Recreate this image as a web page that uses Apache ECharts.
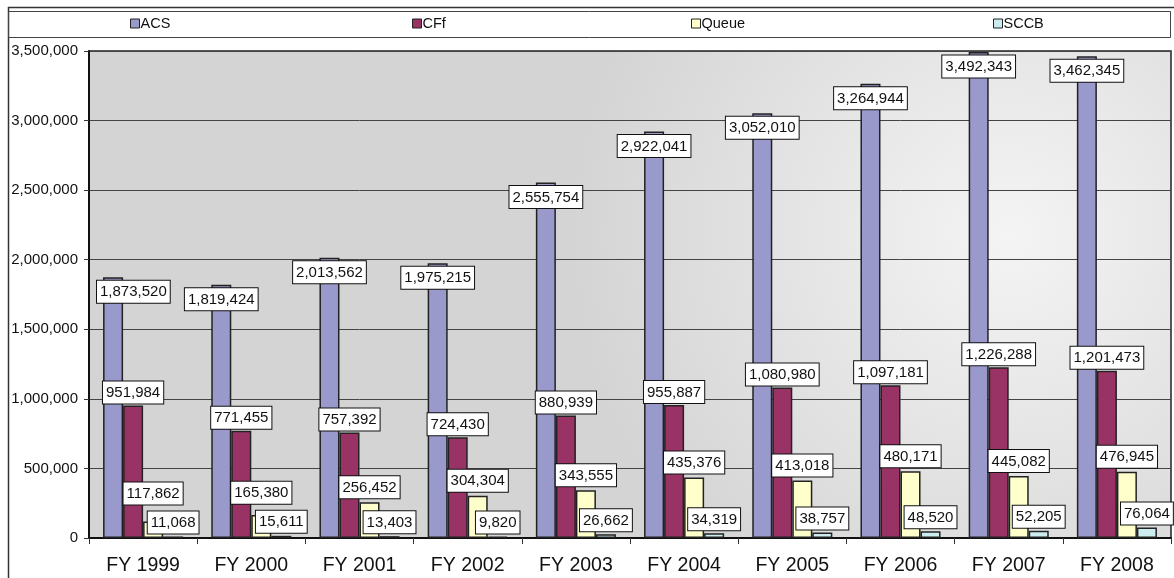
<!DOCTYPE html>
<html>
<head>
<meta charset="utf-8">
<script src="https://cdn.jsdelivr.net/npm/echarts@6/dist/echarts.min.js"></script>
<style>
html,body{margin:0;padding:0;background:#fff;}
#chart{width:1174px;height:578px;}
</style>
</head>
<body>
<div id="chart"></div>
<script>
const categories = ['FY 1999','FY 2000','FY 2001','FY 2002','FY 2003','FY 2004','FY 2005','FY 2006','FY 2007','FY 2008'];
const acs   = [1873520,1819424,2013562,1975215,2555754,2922041,3052010,3264944,3492343,3462345];
const cff   = [951984,771455,757392,724430,880939,955887,1080980,1097181,1226288,1201473];
const queue = [117862,165380,256452,304304,343555,435376,413018,480171,445082,476945];
const sccb  = [11068,15611,13403,9820,26662,34319,38757,48520,52205,76064];
const seriesNames = ['ACS','CFf','Queue','SCCB'];
const yTicks = {min:0, max:3500000, interval:500000};

const colors = ['#9999CC','#993366','#FFFFCC','#CCECF0'];
const fmt = v => Number(v).toLocaleString('en-US');
const FONT = 'Liberation Sans, Arial, sans-serif';
const GRID = {left:89, right:3, top:51, bottom:40};

const labelBase = {
  show:true, color:'#111', fontFamily:FONT, fontSize:15,
  backgroundColor:'#fff', borderColor:'#111', borderWidth:1,
  padding:[4,3,3,3],
  formatter: p => fmt(p.value)
};

let chart;

// keep labels inside the plot area horizontally
function keepInside(p){
  const minX = GRID.left + 7;
  if (p.labelRect.x < minX) return {dx: minX - p.labelRect.x};
  return {};
}
// Queue labels step above SCCB labels when they would collide
function queueLayout(p){
  const ySccbTop = chart.convertToPixel({yAxisIndex:0}, sccb[p.dataIndex]);
  const sccbLabelTop = ySccbTop - 3 - p.labelRect.height;
  const maxBottom = sccbLabelTop - 4;
  const bottom = p.labelRect.y + p.labelRect.height;
  if (bottom > maxBottom) return {dy: maxBottom - bottom};
  return {};
}

function mkSeries(name, data, color, pos, dist, layout){
  const s = {
    name, type:'bar', data,
    barGap:'0%', barCategoryGap:'26%',
    itemStyle:{color, borderColor:'#222', borderWidth:1.5},
    label:Object.assign({}, labelBase, {position:pos, distance:dist}),
    emphasis:{disabled:true},
    z: 2
  };
  if (layout) s.labelLayout = layout;
  return s;
}

const legendX = [130, 412, 691, 993];
const legends = seriesNames.map((n,i)=>({
  data:[n], left:legendX[i], top:16, padding:0,
  itemWidth:9, itemHeight:9, itemGap:0,
  icon:'rect',
  textStyle:{fontFamily:FONT, fontSize:14.5, color:'#111', padding:[0,0,0,-4]},
  itemStyle:{borderColor:'#222', borderWidth:1},
  selectedMode:false
}));

chart = echarts.init(document.getElementById('chart'), null, {renderer:'canvas'});
chart.setOption({
  animation:false,
  color:colors,
  backgroundColor:'#fff',
  legend:legends,
  grid:{
    left:GRID.left, right:GRID.right, top:GRID.top, bottom:GRID.bottom,
    show:true, borderColor:'#222', borderWidth:1.5,
    backgroundColor:{
      type:'radial', x:0.85, y:0.38, r:0.9,
      colorStops:[{offset:0,color:'#F4F4F4'},{offset:1,color:'#D4D4D4'}]
    }
  },
  graphic:[
    {type:'rect', left:6, top:5, shape:{width:1250, height:700}, style:{fill:null, stroke:'#333', lineWidth:1.5}, z:-1, silent:true},
    {type:'rect', left:6, top:9, shape:{width:1162, height:26}, style:{fill:null, stroke:'#444', lineWidth:1}, z:-1, silent:true}
  ],
  xAxis:{
    type:'category', data:categories,
    axisLine:{lineStyle:{color:'#111', width:2}},
    axisTick:{show:true, length:6, lineStyle:{color:'#333'}},
    axisLabel:{fontFamily:FONT, fontSize:19.5, color:'#111', margin:18}
  },
  yAxis:{
    type:'value', min:yTicks.min, max:yTicks.max, interval:yTicks.interval,
    axisLine:{show:true, lineStyle:{color:'#111', width:2}},
    axisTick:{show:true, length:5, lineStyle:{color:'#333'}},
    axisLabel:{fontFamily:FONT, fontSize:15, color:'#111', margin:11, formatter:v=>fmt(v)},
    splitLine:{show:true, lineStyle:{color:'#444', width:1}}
  },
  series:[
    mkSeries('ACS', acs, colors[0], 'insideTop', 3.5, keepInside),
    mkSeries('CFf', cff, colors[1], 'top', 2),
    mkSeries('Queue', queue, colors[2], 'top', 4, queueLayout),
    mkSeries('SCCB', sccb, colors[3], 'top', 3)
  ]
});
</script>
</body>
</html>
